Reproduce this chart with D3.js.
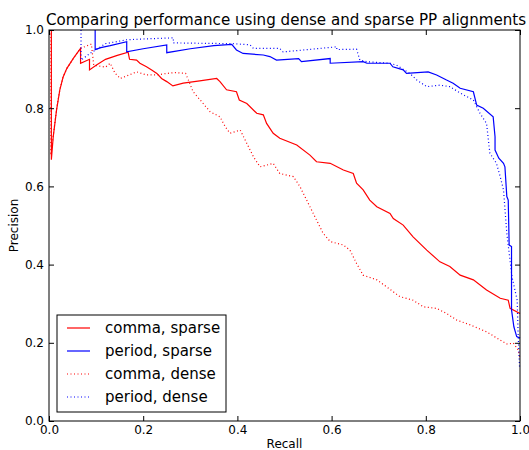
<!DOCTYPE html>
<html>
<head>
<meta charset="utf-8">
<script src="https://cdn.jsdelivr.net/npm/d3@7"></script>
<style>
  html, body { margin: 0; padding: 0; background: #fff; }
  svg { display: block; }
  text { font-family: "DejaVu Sans", sans-serif; fill: #000; }
</style>
</head>
<body>
<svg id="chart" width="529" height="450"></svg>
<script>
// ---- Data ----
const xTicks = [0.0, 0.2, 0.4, 0.6, 0.8, 1.0];
const yTicks = [0.0, 0.2, 0.4, 0.6, 0.8, 1.0];
const seriesNames = ["comma, sparse", "period, sparse", "comma, dense", "period, dense"];

const commaSparseRecall = [0.005,0.005,0.009,0.016,0.023,0.030,0.038,0.052,0.067,0.067,0.086,0.086,0.100,0.120,0.145,0.168,0.171,0.186,0.193,0.207,0.218,0.229,0.239,0.250,0.263,0.285,0.320,0.356,0.363,0.377,0.398,0.404,0.420,0.441,0.455,0.462,0.476,0.490,0.526,0.554,0.568,0.597,0.625,0.646,0.653,0.667,0.681,0.696,0.724,0.731,0.752,0.773,0.802,0.830,0.851,0.873,0.901,0.929,0.958,0.975,0.979,1.000];
const commaSparsePrecision = [1.000,0.668,0.727,0.795,0.847,0.880,0.902,0.928,0.953,0.915,0.925,0.898,0.910,0.925,0.935,0.943,0.925,0.923,0.915,0.906,0.898,0.889,0.876,0.868,0.857,0.864,0.870,0.876,0.868,0.847,0.842,0.821,0.812,0.787,0.783,0.761,0.736,0.723,0.706,0.680,0.663,0.659,0.642,0.633,0.608,0.591,0.565,0.548,0.531,0.518,0.501,0.471,0.437,0.407,0.395,0.373,0.361,0.335,0.314,0.309,0.288,0.275];

const periodSparseRecall = [0.098,0.098,0.110,0.130,0.165,0.165,0.200,0.250,0.250,0.300,0.350,0.388,0.398,0.412,0.455,0.469,0.483,0.530,0.536,0.597,0.597,0.667,0.675,0.724,0.730,0.752,0.759,0.805,0.823,0.844,0.858,0.873,0.901,0.908,0.922,0.943,0.947,0.947,0.955,0.965,0.968,0.972,0.975,0.977,0.982,0.982,0.987,0.993,1.000];
const periodSparsePrecision = [1.000,0.950,0.955,0.960,0.970,0.944,0.952,0.962,0.942,0.952,0.960,0.963,0.949,0.940,0.936,0.932,0.923,0.927,0.919,0.927,0.915,0.919,0.915,0.915,0.906,0.898,0.889,0.893,0.885,0.872,0.864,0.851,0.842,0.808,0.800,0.778,0.727,0.693,0.672,0.659,0.650,0.574,0.565,0.450,0.446,0.284,0.241,0.216,0.212];

const commaDenseRecall = [0.004,0.004,0.009,0.016,0.023,0.030,0.038,0.052,0.067,0.090,0.095,0.120,0.130,0.140,0.151,0.170,0.186,0.207,0.230,0.250,0.268,0.290,0.299,0.306,0.321,0.342,0.363,0.374,0.384,0.406,0.420,0.434,0.448,0.476,0.490,0.519,0.533,0.547,0.561,0.582,0.597,0.625,0.639,0.653,0.667,0.696,0.717,0.745,0.773,0.795,0.823,0.844,0.866,0.894,0.929,0.958,0.972,0.986,0.996,1.000];
const commaDensePrecision = [1.000,0.680,0.730,0.797,0.848,0.880,0.902,0.928,0.953,0.964,0.910,0.905,0.915,0.890,0.876,0.885,0.893,0.885,0.885,0.889,0.891,0.889,0.863,0.842,0.821,0.791,0.778,0.753,0.736,0.744,0.710,0.676,0.650,0.659,0.633,0.625,0.599,0.565,0.531,0.480,0.459,0.450,0.437,0.403,0.373,0.361,0.343,0.318,0.309,0.292,0.288,0.275,0.258,0.246,0.228,0.207,0.197,0.199,0.182,0.160];

const periodDenseRecall = [0.068,0.068,0.087,0.100,0.120,0.165,0.200,0.264,0.264,0.390,0.427,0.434,0.490,0.497,0.611,0.611,0.653,0.660,0.674,0.724,0.738,0.766,0.781,0.802,0.830,0.851,0.880,0.901,0.915,0.929,0.936,0.950,0.958,0.965,0.972,0.983,0.994,0.996,0.999];
const periodDensePrecision = [1.000,0.923,0.940,0.950,0.965,0.975,0.977,0.980,0.967,0.965,0.962,0.953,0.953,0.944,0.957,0.950,0.951,0.923,0.919,0.915,0.910,0.889,0.872,0.855,0.859,0.855,0.834,0.821,0.787,0.761,0.685,0.659,0.625,0.591,0.480,0.369,0.309,0.224,0.139];

const series = [
  { name: seriesNames[0], r: commaSparseRecall,  p: commaSparsePrecision,  color: "#ff0000", dash: null },
  { name: seriesNames[1], r: periodSparseRecall, p: periodSparsePrecision, color: "#0000ff", dash: null },
  { name: seriesNames[2], r: commaDenseRecall,   p: commaDensePrecision,   color: "#ff0000", dash: "1,2.5" },
  { name: seriesNames[3], r: periodDenseRecall,  p: periodDensePrecision,  color: "#0000ff", dash: "1,2.5" }
];

// ---- Layout ----
const svg = d3.select("#chart");
const L = 49, R = 520, T = 30, B = 421;
const x = d3.scaleLinear().domain([0, 1]).range([L, R]);
const y = d3.scaleLinear().domain([0, 1]).range([B, T]);
const fmt = d3.format(".1f");

// Lines
const line = d3.line().x(d => x(d[0])).y(d => y(d[1]));
const clipId = "plotclip";
svg.append("clipPath").attr("id", clipId).append("rect")
  .attr("x", L).attr("y", T - 1).attr("width", R - L + 1).attr("height", B - T + 2);

const g = svg.append("g").attr("clip-path", `url(#${clipId})`);
series.forEach(s => {
  const pts = s.r.map((rv, i) => [rv, s.p[i]]);
  g.append("path")
    .attr("d", line(pts))
    .attr("fill", "none")
    .attr("stroke", s.color)
    .attr("stroke-width", 1.2)
    .attr("stroke-dasharray", s.dash)
    .attr("stroke-linejoin", "miter");
});

// Axes (ticks inside, on all four sides)
const tickLen = 5;
const axB = svg.append("g").attr("transform", `translate(0,${B})`)
  .call(d3.axisBottom(x).tickValues(xTicks).tickFormat(fmt).tickSizeInner(-tickLen).tickSizeOuter(0).tickPadding(4));
const axT = svg.append("g").attr("transform", `translate(0,${T})`)
  .call(d3.axisTop(x).tickValues(xTicks).tickFormat("").tickSizeInner(-tickLen).tickSizeOuter(0));
const axL = svg.append("g").attr("transform", `translate(${L},0)`)
  .call(d3.axisLeft(y).tickValues(yTicks).tickFormat(fmt).tickSizeInner(-tickLen).tickSizeOuter(0).tickPadding(5));
const axR = svg.append("g").attr("transform", `translate(${R},0)`)
  .call(d3.axisRight(y).tickValues(yTicks).tickFormat("").tickSizeInner(-tickLen).tickSizeOuter(0));
[axB, axT, axL, axR].forEach(a => {
  a.select(".domain").remove();
  a.selectAll("line").attr("stroke", "#000");
  a.selectAll("text").attr("font-size", 12).attr("font-family", "DejaVu Sans, sans-serif").attr("fill", "#000");
});

// Frame
svg.append("rect").attr("x", L).attr("y", T).attr("width", R - L).attr("height", B - T)
  .attr("fill", "none").attr("stroke", "#000").attr("stroke-width", 1);

// Title and axis labels
svg.append("text").attr("x", 286).attr("y", 25).attr("text-anchor", "middle")
  .attr("font-size", 15.1).text("Comparing performance using dense and sparse PP alignments");
svg.append("text").attr("x", (L + R) / 2).attr("y", 448).attr("text-anchor", "middle")
  .attr("font-size", 12).text("Recall");
svg.append("text").attr("transform", `translate(18,${(T + B) / 2}) rotate(-90)`).attr("text-anchor", "middle")
  .attr("font-size", 12).text("Precision");

// Legend
const lg = svg.append("g");
const lgX = 57, lgY = 315, lgW = 169, lgH = 97;
lg.append("rect").attr("x", lgX).attr("y", lgY).attr("width", lgW).attr("height", lgH)
  .attr("fill", "#fff").attr("stroke", "#000").attr("stroke-width", 1);
series.forEach((s, i) => {
  const cy = lgY + 13 + i * 23;
  lg.append("line").attr("x1", lgX + 10).attr("x2", lgX + 33).attr("y1", cy).attr("y2", cy)
    .attr("stroke", s.color).attr("stroke-width", 1.2).attr("stroke-dasharray", s.dash);
  lg.append("text").attr("x", lgX + 48).attr("y", cy).attr("dy", "0.35em")
    .attr("font-size", 15).text(s.name);
});
</script>
</body>
</html>
